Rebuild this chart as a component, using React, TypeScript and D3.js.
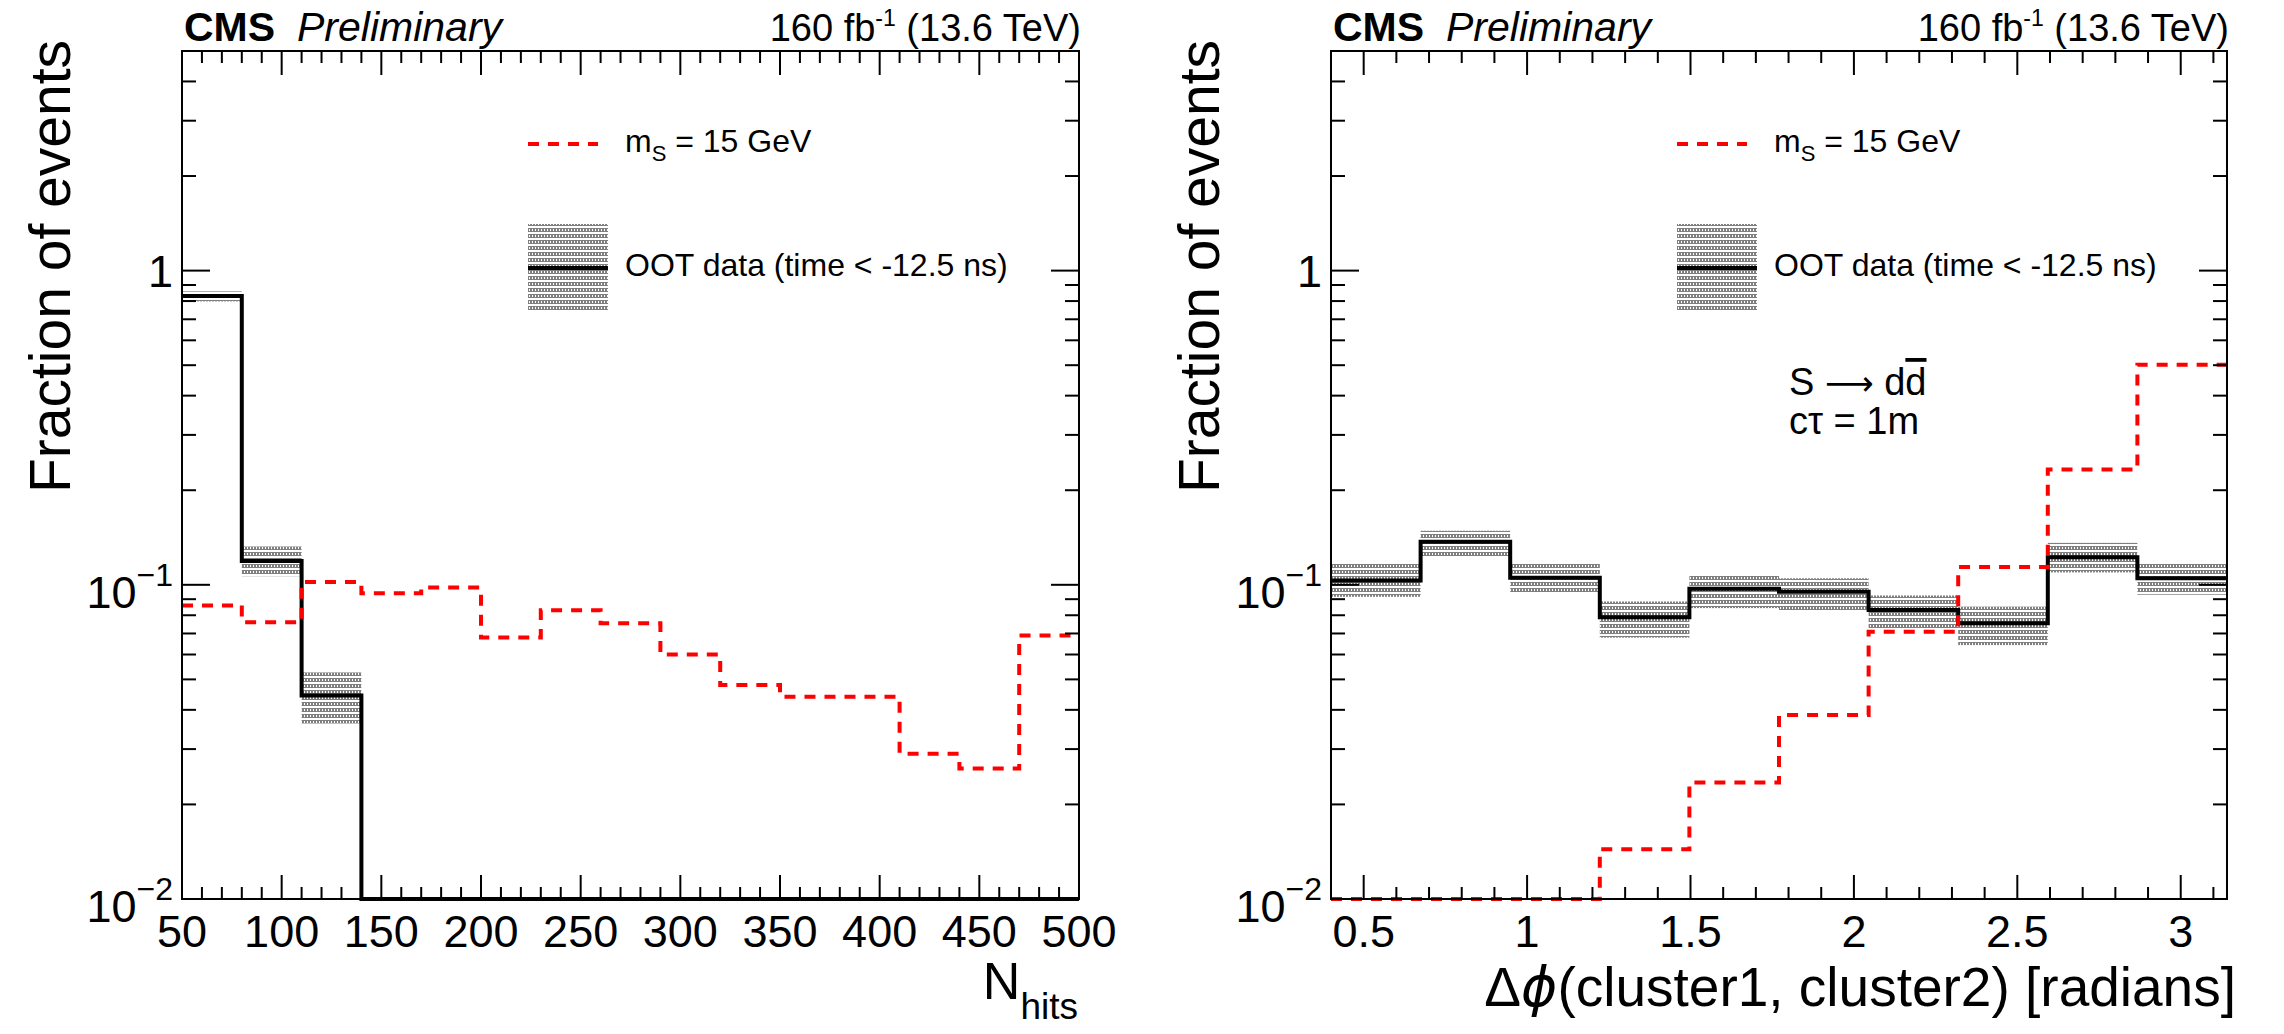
import React from 'react';
import * as d3 from 'd3';

// ---------------- data ----------------
const nhitsEdges = [50, 80, 110, 140, 170, 200, 230, 260, 290, 320, 350, 380, 410, 440, 470, 500];
const nhitsSignal = [0.086, 0.076, 0.102, 0.094, 0.098, 0.068, 0.083, 0.0755, 0.060, 0.048, 0.044, 0.044, 0.029, 0.026, 0.069];
const nhitsOOT = [0.83, 0.119, 0.0444, 0, 0, 0, 0, 0, 0, 0, 0, 0, 0, 0, 0];
const nhitsOOTLow = [0.798, 0.1065, 0.0362];
const nhitsOOTHigh = [0.859, 0.1324, 0.0526];
const nhitsTickLabels = [50, 100, 150, 200, 250, 300, 350, 400, 450, 500];

const dphiEdges = [0.4, 0.6742, 0.9483, 1.2225, 1.4966, 1.7708, 2.0450, 2.3191, 2.5933, 2.8674, 3.1416];
const dphiSignal = [0.01, 0.01, 0.01, 0.0144, 0.0235, 0.0385, 0.0709, 0.1139, 0.2328, 0.502];
const dphiOOT = [0.1033, 0.137, 0.1054, 0.0788, 0.0971, 0.0951, 0.0831, 0.0755, 0.1224, 0.1049];
const dphiOOTLow = [0.0916, 0.1225, 0.0938, 0.0679, 0.0843, 0.0831, 0.0719, 0.0643, 0.1095, 0.093];
const dphiOOTHigh = [0.1166, 0.1486, 0.1178, 0.0885, 0.1074, 0.1049, 0.0925, 0.0852, 0.136, 0.1178];
const dphiTickLabels = [0.5, 1, 1.5, 2, 2.5, 3];

const yDomain = [0.01, 5];
const legendSignal = 'm';
const legendSignalSub = 'S';
const legendSignalRest = ' = 15 GeV';
const legendOOT = 'OOT data (time < -12.5 ns)';

const FONT = "'Liberation Sans', Arial, Helvetica, sans-serif";
const TOP = 51;
const BOTTOM = 899;

type PanelProps = {
  x0: number;
  x1: number;
  xDomain: [number, number];
  edges: number[];
  signal: number[];
  oot: number[];
  lo: number[];
  hi: number[];
  tickLabels: number[];
  minorStep: number;
  majorStep: number;
  title: React.ReactNode;
  extra?: React.ReactNode;
};

function histPath(xs: d3.ScaleLinear<number, number>, ys: d3.ScaleLogarithmic<number, number>, edges: number[], vals: number[]) {
  const ymin = yDomain[0];
  const pts: [number, number][] = vals.map((v, i) => [xs(edges[i]), ys(Math.max(v, ymin))]);
  pts.push([xs(edges[edges.length - 1]), ys(Math.max(vals[vals.length - 1], ymin))]);
  return d3.line().curve(d3.curveStepAfter)(pts) || '';
}

function Panel(p: PanelProps) {
  const x = d3.scaleLinear().domain(p.xDomain).range([p.x0, p.x1]);
  const y = d3.scaleLog().domain(yDomain).range([BOTTOM, TOP]);

  const yTicks = y.ticks();
  const isMajorY = (v: number) => Math.abs(Math.log10(v) - Math.round(Math.log10(v))) < 1e-6;

  const xMinor: number[] = [];
  const nMin = Math.ceil(p.xDomain[0] / p.minorStep - 1e-6);
  const nMax = Math.floor(p.xDomain[1] / p.minorStep + 1e-6);
  for (let k = nMin; k <= nMax; k++) xMinor.push(+(k * p.minorStep).toFixed(6));
  const isMajorX = (v: number) => Math.abs(v / p.majorStep - Math.round(v / p.majorStep)) < 1e-6;

  const yLabel = (v: number) => {
    const e = Math.round(Math.log10(v));
    if (e === 0) return <tspan>1</tspan>;
    return (
      <>
        <tspan>10</tspan>
        <tspan fontSize={32} dy={-22}>{'\u2212' + Math.abs(e)}</tspan>
      </>
    );
  };

  const L = p.x0;
  return (
    <g>
      {/* error bands */}
      {p.lo.map((lo, i) => (
        <rect key={'b' + i} x={x(p.edges[i])} y={y(p.hi[i])} width={x(p.edges[i + 1]) - x(p.edges[i])}
          height={y(lo) - y(p.hi[i])} fill="url(#hatch)" />
      ))}
      {/* OOT hist */}
      <path d={histPath(x, y, p.edges, p.oot)} fill="none" stroke="#000" strokeWidth={4} />
      {/* signal hist */}
      <path d={histPath(x, y, p.edges, p.signal)} fill="none" stroke="#ff0000" strokeWidth={4} strokeDasharray="11,9" />

      {/* frame */}
      <rect x={p.x0} y={TOP} width={p.x1 - p.x0} height={BOTTOM - TOP} fill="none" stroke="#000" strokeWidth={2} />

      {/* y ticks */}
      {yTicks.map((v, i) => {
        const len = isMajorY(v) ? 28 : 14;
        const yy = y(v);
        if (yy < TOP - 0.5) return null;
        return (
          <g key={'yt' + i}>
            <line x1={p.x0} x2={p.x0 + len} y1={yy} y2={yy} stroke="#000" strokeWidth={2} />
            <line x1={p.x1} x2={p.x1 - len} y1={yy} y2={yy} stroke="#000" strokeWidth={2} />
          </g>
        );
      })}
      {yTicks.filter(isMajorY).map((v, i) => (
        <text key={'yl' + i} x={p.x0 - 9} y={y(v) + (Math.round(Math.log10(v)) === 0 ? 16 : 23)} textAnchor="end"
          fontSize={45} fontFamily={FONT}>{yLabel(v)}</text>
      ))}

      {/* x ticks */}
      {xMinor.map((v, i) => {
        const len = isMajorX(v) ? 24 : 12;
        const xx = x(v);
        return (
          <g key={'xt' + i}>
            <line x1={xx} x2={xx} y1={BOTTOM} y2={BOTTOM - len} stroke="#000" strokeWidth={2} />
            <line x1={xx} x2={xx} y1={TOP} y2={TOP + len} stroke="#000" strokeWidth={2} />
          </g>
        );
      })}
      {p.tickLabels.map((v, i) => (
        <text key={'xl' + i} x={x(v)} y={947} textAnchor="middle" fontSize={45} fontFamily={FONT}>{String(v)}</text>
      ))}

      {/* y title */}
      <text transform={`translate(${p.x0 - 112},40) rotate(-90)`} textAnchor="end" fontSize={57} fontFamily={FONT}>
        Fraction of events
      </text>

      {/* header */}
      <text x={L + 2} y={41} fontSize={41} fontWeight="bold" fontFamily={FONT}>CMS</text>
      <text x={L + 115} y={41} fontSize={41} fontStyle="italic" fontFamily={FONT}>Preliminary</text>
      <text x={p.x1 + 2} y={41} textAnchor="end" fontSize={38} fontFamily={FONT}>
        160 fb<tspan fontSize={23} dy={-15}>-1</tspan><tspan dy={15}> (13.6 TeV)</tspan>
      </text>

      {/* legend */}
      <line x1={L + 346} x2={L + 416} y1={144} y2={144} stroke="#ff0000" strokeWidth={4} strokeDasharray="11,9" />
      <text x={L + 443} y={152} fontSize={32} fontFamily={FONT}>
        {legendSignal}<tspan fontSize={22} dy={9}>{legendSignalSub}</tspan><tspan dy={-9}>{legendSignalRest}</tspan>
      </text>
      <rect x={L + 346} y={224} width={80} height={88} fill="url(#hatch)" />
      <line x1={L + 346} x2={L + 426} y1={268} y2={268} stroke="#000" strokeWidth={4} />
      <text x={L + 443} y={276} fontSize={32} fontFamily={FONT}>{legendOOT}</text>

      {p.title}
      {p.extra}
    </g>
  );
}

export default function App() {
  return (
    <svg width={2284} height={1034} style={{ position: 'absolute', left: 0, top: 0, background: '#fff' }}>
      <defs>
        <pattern id="hatch" width={3} height={6} patternUnits="userSpaceOnUse">
          <rect width={3} height={6} fill="#ffffff" />
          <rect width={3} height={4} fill="#7f7f7f" />
          <rect x={1} y={1} width={1} height={2} fill="#ffffff" />
        </pattern>
      </defs>
      <rect width={2284} height={1034} fill="#fff" />
      <Panel
        x0={182} x1={1079} xDomain={[50, 500]}
        edges={nhitsEdges} signal={nhitsSignal} oot={nhitsOOT} lo={nhitsOOTLow} hi={nhitsOOTHigh}
        tickLabels={nhitsTickLabels} minorStep={10} majorStep={50}
        title={
          <text x={1078} y={999} textAnchor="end" fontSize={52} fontFamily={FONT}>
            N<tspan fontSize={37} dy={20}>hits</tspan>
          </text>
        }
      />
      <Panel
        x0={1331} x1={2227} xDomain={[0.4, Math.PI]}
        edges={dphiEdges} signal={dphiSignal} oot={dphiOOT} lo={dphiOOTLow} hi={dphiOOTHigh}
        tickLabels={dphiTickLabels} minorStep={0.1} majorStep={0.5}
        title={
          <text x={2236} y={1006} textAnchor="end" fontSize={55} fontFamily={FONT}>
            Δ<tspan fontStyle="italic" fontFamily="'DejaVu Sans', sans-serif">ϕ</tspan>(cluster1, cluster2) [radians]
          </text>
        }
        extra={
          <g fontFamily={FONT} fontSize={38}>
            <text x={1331 + 458} y={395}>S <tspan fontFamily="'DejaVu Sans', sans-serif" fontSize={34}>⟶</tspan> d<tspan style={{ textDecoration: 'overline' }}>d</tspan></text>
            <text x={1331 + 458} y={434}>cτ = 1m</text>
          </g>
        }
      />
    </svg>
  );
}
